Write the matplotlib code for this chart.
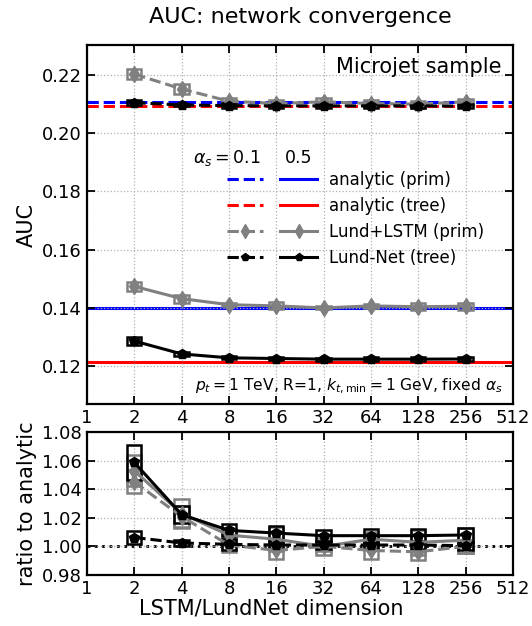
import matplotlib
matplotlib.use("Agg")
import matplotlib.pyplot as plt
from matplotlib.patches import Rectangle
from matplotlib.lines import Line2D
from matplotlib.legend_handler import HandlerTuple
import numpy as np

# ---------------- data ----------------
dims = [2, 4, 8, 16, 32, 64, 128, 256]
xticks = [1, 2, 4, 8, 16, 32, 64, 128, 256, 512]
xticklabels = ["1", "2", "4", "8", "16", "32", "64", "128", "256", "512"]

# analytic AUC values (alpha_s = 0.1, 0.5)
analytic_prim_01 = 0.2108
analytic_tree_01 = 0.2092
analytic_prim_05 = 0.1400
analytic_tree_05 = 0.1215

# Lund+LSTM (primary)
lstm_01 = [0.2203, 0.2152, 0.2110, 0.2102, 0.2108, 0.2102, 0.2100, 0.2108]
lstm_01_err = [0.0017, 0.0016, 0.0010, 0.0012, 0.0012, 0.0012, 0.0012, 0.0010]
lstm_05 = [0.1474, 0.1432, 0.1411, 0.1407, 0.1400, 0.1407, 0.1404, 0.1406]
lstm_05_err = [0.0015, 0.0014, 0.0006, 0.0012, 0.0005, 0.0007, 0.0012, 0.0012]

# Lund-Net (tree)
lnet_01 = [0.2105, 0.2097, 0.2095, 0.2094, 0.2094, 0.2094, 0.2094, 0.2093]
lnet_01_err = [0.0009, 0.0005, 0.0008, 0.0006, 0.0006, 0.0006, 0.0006, 0.0006]
lnet_05 = [0.12863, 0.12420, 0.12286, 0.12263, 0.12241, 0.12241, 0.12241, 0.12247]
lnet_05_err = [0.0015, 0.0007, 0.0005, 0.0006, 0.0005, 0.0006, 0.0006, 0.0006]

GRAY = "#808080"
BLUE = "#0000ff"
RED = "#ff0000"

plt.rcParams.update({
    "font.family": ["DejaVu Sans"],
    "mathtext.fontset": "dejavusans",
    "xtick.direction": "in",
    "ytick.direction": "in",
    "xtick.top": True,
    "ytick.right": True,
    "xtick.major.size": 6,
    "ytick.major.size": 6,
    "xtick.major.width": 1.3,
    "ytick.major.width": 1.3,
    "xtick.minor.visible": False,
    "ytick.minor.visible": False,
    "axes.linewidth": 1.6,
    "xtick.labelsize": 13,
    "ytick.labelsize": 13,
    "axes.labelsize": 15,
})

fig = plt.figure(figsize=(5.32, 6.26), dpi=100)
ax = fig.add_axes([0.1635, 0.3546, 0.8008, 0.5735])
axr = fig.add_axes([0.1635, 0.0815, 0.8008, 0.2284])

BOX_LO, BOX_HI = 0.90, 1.108
MS = {"d": 8, "p": 7}


def draw_boxes(a, vals, errs, color, scale=1.0):
    for x, v, e in zip(dims, vals, errs):
        a.add_patch(Rectangle((x * BOX_LO, (v - e) / scale), x * BOX_HI - x * BOX_LO,
                              2 * e / scale, facecolor="none", edgecolor=color,
                              lw=1.8, zorder=2))


series = [
    (lstm_01, lstm_01_err, GRAY, "--", "d", analytic_prim_01),
    (lstm_05, lstm_05_err, GRAY, "-", "d", analytic_prim_05),
    (lnet_01, lnet_01_err, "black", "--", "p", analytic_tree_01),
    (lnet_05, lnet_05_err, "black", "-", "p", analytic_tree_05),
]

# ---------- top panel ----------
ax.axhline(analytic_prim_01, color=BLUE, ls="--", lw=2.2, zorder=1)
ax.axhline(analytic_tree_01, color=RED, ls="--", lw=2.2, zorder=1)
ax.axhline(analytic_prim_05, color=BLUE, ls="-", lw=2.2, zorder=1)
ax.axhline(analytic_tree_05, color=RED, ls="-", lw=2.2, zorder=1)

for vals, errs, col, ls, mk, ana in series:
    draw_boxes(ax, vals, errs, col)
    ax.plot(dims, vals, color=col, ls=ls, lw=2.2, marker=mk, ms=MS[mk], zorder=3)

ax.set_xscale("log", base=2)
ax.set_xlim(1, 512)
ax.set_xticks(xticks)
ax.set_xticklabels(xticklabels)
ax.minorticks_off()
ax.set_ylim(0.107, 0.2303)
ax.set_yticks([0.12, 0.14, 0.16, 0.18, 0.20, 0.22])
ax.set_ylabel("AUC")
ax.grid(True, ls=":", color="#b0b0b0", lw=0.9)
ax.set_title("AUC: network convergence", fontsize=16, pad=16)

ax.text(0.973, 0.938, "Microjet sample", transform=ax.transAxes, ha="right",
        va="center", fontsize=15)
ax.text(0.977, 0.048, r"$p_t = 1$ TeV, R=1, $k_{t,\min} = 1$ GeV, fixed $\alpha_s$",
        transform=ax.transAxes, ha="right", va="center", fontsize=11.2)

# legend
ax.text(0.248, 0.685, r"$\alpha_s = 0.1$", transform=ax.transAxes, ha="left",
        va="center", fontsize=12.5)
ax.text(0.465, 0.685, "0.5", transform=ax.transAxes, ha="left", va="center",
        fontsize=12.5)
h = [
    (Line2D([], [], color=BLUE, ls="--", lw=2.2), Line2D([], [], color=BLUE, ls="-", lw=2.2)),
    (Line2D([], [], color=RED, ls="--", lw=2.2), Line2D([], [], color=RED, ls="-", lw=2.2)),
    (Line2D([], [], color=GRAY, ls="--", lw=2.2, marker="d", ms=7),
     Line2D([], [], color=GRAY, ls="-", lw=2.2, marker="d", ms=7)),
    (Line2D([], [], color="black", ls="--", lw=2.2, marker="p", ms=6),
     Line2D([], [], color="black", ls="-", lw=2.2, marker="p", ms=6)),
]
labels = ["analytic (prim)", "analytic (tree)", "Lund+LSTM (prim)", "Lund-Net (tree)"]
ax.legend(h, labels, handler_map={tuple: HandlerTuple(ndivide=None, pad=1.04)},
          loc="upper left", bbox_to_anchor=(0.328, 0.650), borderpad=0,
          borderaxespad=0, frameon=False, fontsize=12, handlelength=5.4,
          handletextpad=0.74, labelspacing=0.49)

# ---------- ratio panel ----------
axr.axhline(1.0, color="black", ls=":", lw=2, zorder=1)
for vals, errs, col, ls, mk, ana in series:
    r = np.array(vals) / ana
    draw_boxes(axr, vals, errs, col, scale=ana)
    axr.plot(dims, r, color=col, ls=ls, lw=2.2, marker=mk, ms=MS[mk], zorder=3)

axr.set_xscale("log", base=2)
axr.set_xlim(1, 512)
axr.set_xticks(xticks)
axr.set_xticklabels(xticklabels)
axr.minorticks_off()
axr.set_ylim(0.98, 1.08)
axr.set_yticks([0.98, 1.00, 1.02, 1.04, 1.06, 1.08])
axr.set_ylabel("ratio to analytic")
axr.set_xlabel("LSTM/LundNet dimension", fontsize=15)
axr.xaxis.set_label_coords(0.432, -0.165)
axr.grid(True, ls=":", color="#b0b0b0", lw=0.9)

fig.align_ylabels([ax, axr])
fig.savefig("out.png", dpi=100)
